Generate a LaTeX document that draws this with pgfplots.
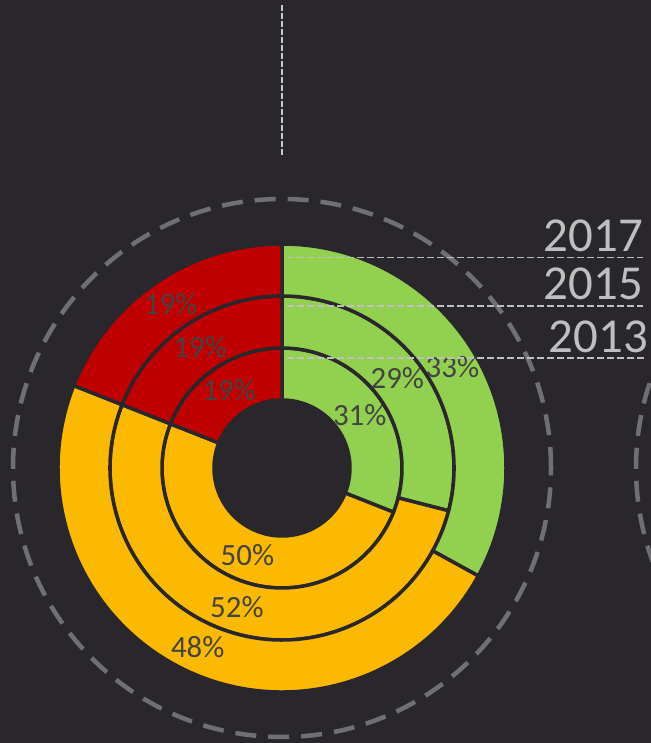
\documentclass[border=0pt]{standalone}
\usepackage{pgfplots}
\usepackage{pgfplotstable}
\pgfplotsset{compat=1.18}
\usepackage{fontspec}
\setmainfont{Carlito}

\definecolor{bg}{HTML}{29272C}
\definecolor{ringgreen}{HTML}{92D050}
\definecolor{ringyellow}{HTML}{FBB900}
\definecolor{ringred}{HTML}{C00000}
\definecolor{lblgray}{HTML}{434343}
\definecolor{yeargray}{HTML}{BFBFBF}
\definecolor{circlegray}{HTML}{707074}

% shares per ring, radii of each ring in px of the reference
\pgfplotstableread{
year green yellow red rin rout
2013 31 50 19 68 120
2015 29 52 19 120 172
2017 33 48 19 172 224
}\shares

% annular sector: start, end, r inner, r outer, colour
\newcommand{\sector}[5]{%
  \edef\temp{\noexpand\fill[#5, draw=bg, line width=3.5bp]
    ([shift={(#1:#4bp)}]axis cs:282,275) arc[start angle=#1, end angle=#2, radius=#4bp]
    -- ([shift={(#2:#3bp)}]axis cs:282,275) arc[start angle=#2, end angle=#1, radius=#3bp] -- cycle;}%
  \temp}
\newcommand{\seglabel}[3]{% angle, radius, text
  \edef\temp{\noexpand\node[lbl] at ([shift={(#1:#2bp)}]axis cs:282,275) {#3\noexpand\%};}%
  \temp}
\newcommand{\ringrow}[1]{%
  \pgfplotstablegetelem{#1}{green}\of\shares \let\vg\pgfplotsretval
  \pgfplotstablegetelem{#1}{yellow}\of\shares \let\vy\pgfplotsretval
  \pgfplotstablegetelem{#1}{red}\of\shares \let\vr\pgfplotsretval
  \pgfplotstablegetelem{#1}{rin}\of\shares \let\ri\pgfplotsretval
  \pgfplotstablegetelem{#1}{rout}\of\shares \let\ro\pgfplotsretval
  \pgfmathsetmacro\aA{90-3.6*\vg}%
  \pgfmathsetmacro\aB{\aA-3.6*\vy}%
  \pgfmathsetmacro\rmid{(\ri+\ro)/2}%
  \pgfmathsetmacro\mA{(90+\aA)/2}%
  \pgfmathsetmacro\mB{(\aA+\aB)/2}%
  \pgfmathsetmacro\mC{(\aB-270)/2}%
  \sector{90}{\aA}{\ri}{\ro}{ringgreen}%
  \sector{\aA}{\aB}{\ri}{\ro}{ringyellow}%
  \sector{\aB}{-270}{\ri}{\ro}{ringred}%
  \seglabel{\mA}{\rmid}{\vg}%
  \seglabel{\mB}{\rmid}{\vy}%
  \seglabel{\mC}{\rmid}{\vr}%
}

\begin{document}
\begin{tikzpicture}[
    lbl/.style={text=lblgray, inner sep=0pt, font=\fontsize{31}{31}\selectfont},
    yr/.style={text=yeargray, inner sep=0pt, anchor=base east, font=\fontsize{49}{49}\selectfont}
  ]
  \path[use as bounding box] (0,0) rectangle (651bp,743bp);
  \clip (0,0) rectangle (651bp,743bp);
  \fill[bg] (0,0) rectangle (651bp,743bp);
  \begin{axis}[
      at={(0,0)}, anchor=south west,
      scale only axis,
      width=651bp, height=743bp,
      xmin=0, xmax=651, ymin=0, ymax=743,
      hide axis,
    ]
    % surrounding dashed circles
    \draw[circlegray, line width=4.5bp, dash pattern=on 21bp off 12bp]
      (axis cs:282,275) circle[radius=269bp];
    \draw[circlegray, line width=4.5bp, dash pattern=on 21bp off 12bp]
      (axis cs:905,275) circle[radius=269bp];
    % rings, inner 2013 to outer 2017
    \ringrow{0}
    \ringrow{1}
    \ringrow{2}
    % vertical guide at top
    \draw[yeargray!85, line width=2bp, dash pattern=on 6bp off 2bp]
      (axis cs:282,738) -- (axis cs:282,588);
    % year guides
    \draw[yeargray, line width=1.5bp, dash pattern=on 7bp off 3bp]
      (axis cs:287,485.5) -- (axis cs:643,485.5);
    \draw[yeargray, line width=1.5bp, dash pattern=on 7bp off 3bp]
      (axis cs:287,437) -- (axis cs:643,437);
    \draw[yeargray, line width=1.5bp, dash pattern=on 7bp off 3bp]
      (axis cs:287,385) -- (axis cs:645,385);
    \node[yr] at (axis cs:643,491) {2017};
    \node[yr] at (axis cs:643,443) {2015};
    \node[yr] at (axis cs:648,390) {2013};
  \end{axis}
\end{tikzpicture}
\end{document}
